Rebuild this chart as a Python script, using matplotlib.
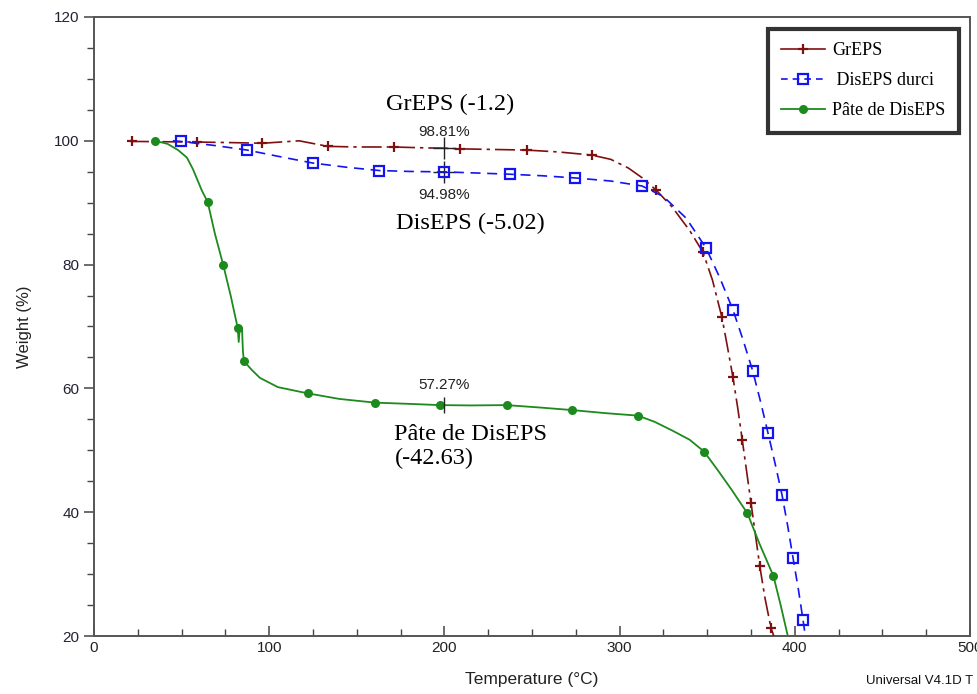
import matplotlib
matplotlib.use("Agg")
import matplotlib.pyplot as plt
from matplotlib.lines import Line2D

# ---------------- data ----------------
T_gr = [20, 21.5, 40, 58.6, 80, 96, 117, 133.6, 150, 171, 190, 200, 209, 228, 247,
        265, 284, 295, 305, 313, 321, 330, 340, 347.6, 353, 358.4, 361.5, 364.7,
        367.5, 370, 372.5, 375, 377.5, 380, 383, 386.4, 388]
W_gr = [100.0, 99.9, 99.85, 99.8, 99.7, 99.6, 100.0, 99.1, 99.0, 99.0, 98.85, 98.81,
        98.7, 98.6, 98.5, 98.2, 97.7, 97.0, 95.6, 94.0, 92.0, 89.3, 85.5, 82.0, 77.5,
        71.5, 66.8, 61.8, 56.7, 51.7, 46.6, 41.5, 36.4, 31.3, 26.1, 21.3, 20.0]
M_gr = [21.5, 58.6, 96, 133.6, 171, 209, 247, 284, 321, 347.6, 358.4, 364.7,
        370, 375, 380, 386.4]

T_di = [45, 49.5, 70, 87.4, 105, 125, 145, 162.7, 180, 199.8, 218, 237.4, 256,
        274.6, 295, 312.8, 325, 338, 349.3, 357, 364.7, 370.5, 376, 380.5, 384.7,
        388.8, 392.7, 396, 399, 402, 404.7, 406]
W_di = [100.0, 99.9, 99.2, 98.5, 97.5, 96.4, 95.7, 95.2, 95.05, 94.98, 94.8, 94.6,
        94.35, 94.0, 93.5, 92.7, 91.0, 87.5, 82.7, 78.0, 72.7, 67.8, 62.8, 57.8,
        52.8, 47.8, 42.8, 37.7, 32.6, 27.6, 22.6, 20.0]
M_di = [49.5, 87.4, 125, 162.7, 199.8, 237.4, 274.6, 312.8, 349.3, 364.7, 376,
        384.7, 392.7, 399, 404.7]

T_pa = [34.8, 42, 48, 53, 56.5, 61.5, 64.9, 69, 73.8, 78, 82, 82.6, 83.2, 84.5,
        85.0, 85.6, 90, 94.7, 105, 122, 140, 160.4, 180, 197.5, 215, 235.5, 255,
        272.8, 292, 310.5, 320, 330, 340, 348.2, 356, 364, 373, 380, 387.8, 392, 396]
W_pa = [100.0, 99.5, 98.5, 97.3, 95.4, 92.0, 90.1, 85.0, 79.9, 75.0, 69.8, 67.5,
        69.8, 69.6, 66.0, 64.4, 63.0, 61.7, 60.2, 59.2, 58.3, 57.7, 57.5, 57.3,
        57.25, 57.3, 56.9, 56.5, 56.0, 55.6, 54.6, 53.2, 51.7, 49.8, 46.8, 43.6,
        39.8, 34.8, 29.7, 24.9, 20.0]
M_pa = [34.8, 64.9, 73.8, 82, 85.6, 122, 160.4, 197.5, 235.5, 272.8, 310.5,
        348.2, 373, 387.8]

labels = ["GrEPS", " DisEPS durci", "Pâte de DisEPS"]
anno_T = 200
anno_vals = [98.81, 94.98, 57.27]
x_ticks = [0, 100, 200, 300, 400, 500]
y_ticks = [20, 40, 60, 80, 100, 120]

c_gr = "#7f1010"
c_di = "#1414f0"
c_pa = "#1d8a1d"

def idx(T, M):
    return [T.index(m) for m in M]

fig = plt.figure(figsize=(9.78, 6.94), dpi=100)
ax = fig.add_axes([94/978, 1-636/694, (970-94)/978, (636-17)/694])

ax.plot(T_gr, W_gr, color=c_gr, lw=1.2, ls=(0, (12, 3, 2, 3)),
        marker="+", ms=7, mew=1.6, markevery=idx(T_gr, M_gr), zorder=3)
ax.plot(T_di, W_di, color=c_di, lw=1.2, ls=(0, (6, 4)),
        marker="s", ms=7, mew=1.6, mfc="none", markevery=idx(T_di, M_di), zorder=3)
ax.plot(T_pa, W_pa, color=c_pa, lw=1.3, ls="-",
        marker="o", ms=6.5, mew=0, markevery=idx(T_pa, M_pa), zorder=3)

# crosshair annotations
ax.plot([anno_T], [anno_vals[0]], marker="+", ms=16, mew=1.0, color="#222222", zorder=4)
ax.plot([anno_T], [anno_vals[1]], marker="+", ms=16, mew=1.0, color="#222222", zorder=2)
ax.plot([anno_T], [anno_vals[2]], marker="|", ms=11, mew=1.0, color="#222222", zorder=4)

sans = ["Liberation Sans", "DejaVu Sans"]
serif = ["Liberation Serif", "DejaVu Serif"]
ax.text(anno_T, anno_vals[0] + 2.6, f"{anno_vals[0]:.2f}%", ha="center", va="center",
        fontsize=11, family=sans, color="#222222")
ax.text(anno_T, anno_vals[1] - 3.8, f"{anno_vals[1]:.2f}%", ha="center", va="center",
        fontsize=11, family=sans, color="#222222")
ax.text(anno_T, anno_vals[2] + 3.2, f"{anno_vals[2]:.2f}%", ha="center", va="center",
        fontsize=11, family=sans, color="#222222")
ax.text(203, 105.8, "GrEPS (-1.2)", ha="center", va="center", fontsize=17.5, family=serif)
ax.text(214.6, 86.7, "DisEPS (-5.02)", ha="center", va="center", fontsize=17.5, family=serif)
ax.text(171.5, 52.6, "Pâte de DisEPS", ha="left", va="center", fontsize=17.5, family=serif)
ax.text(171.5, 48.7, "(-42.63)", ha="left", va="center", fontsize=17.5, family=serif)

ax.set_xlim(0, 500)
ax.set_ylim(20, 120)
ax.set_xticks(x_ticks)
ax.set_yticks(y_ticks)
ax.set_xticks([v for v in range(0, 501, 25)], minor=True)
ax.set_yticks([v for v in range(20, 121, 5)], minor=True)
ax.tick_params(axis="x", which="both", direction="in", colors="#444444",
               labelcolor="#222222", labelsize=11)
ax.tick_params(axis="x", which="major", length=7, width=1.1)
ax.tick_params(axis="x", which="minor", length=5, width=1.0)
ax.tick_params(axis="y", which="both", direction="out", colors="#444444",
               labelcolor="#222233", labelsize=11)
ax.tick_params(axis="y", which="major", length=7, width=1.1)
ax.tick_params(axis="y", which="minor", length=5, width=1.0)
for lab in ax.get_xticklabels() + ax.get_yticklabels():
    lab.set_family(sans)
for sp in ax.spines.values():
    sp.set_color("#555555")
    sp.set_linewidth(1.4)

ax.set_xlabel("Temperature (°C)", fontsize=12.5, family=sans, color="#222222", labelpad=12)
ax.set_ylabel("Weight (%)", fontsize=12, family=sans, color="#222222", labelpad=16)

handles = [
    Line2D([], [], color=c_gr, lw=1.2, marker="+", ms=7, mew=1.6),
    Line2D([], [], color=c_di, lw=1.2, ls=(0, (4, 3)), marker="s", ms=7, mew=1.6, mfc="none"),
    Line2D([], [], color=c_pa, lw=1.3, marker="o", ms=6.5, mew=0),
]
leg = ax.legend(handles, labels, loc="upper right", bbox_to_anchor=(0.987, 0.981),
                prop={"family": serif, "size": 13}, frameon=True, fancybox=False,
                edgecolor="black", handlelength=2.4, handletextpad=0.4,
                borderpad=0.75, labelspacing=0.72, borderaxespad=0)
leg.get_frame().set_linewidth(3)

fig.text(866/978, 1-681/694, "Universal V4.1D T", fontsize=9.5, family=sans,
         ha="left", va="center", color="#111111")

fig.savefig("out.png", dpi=100)
